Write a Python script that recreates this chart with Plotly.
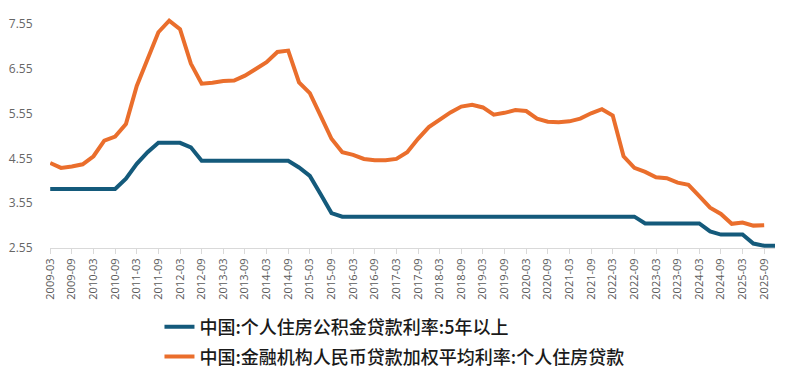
import plotly.graph_objects as go

quarters = [f"{y}-{m:02d}" for y in range(2009, 2026) for m in (3, 6, 9, 12)]

tick_labels = ["2009-03", "2009-09", "2010-03", "2010-09", "2011-03", "2011-09",
               "2012-03", "2012-09", "2013-03", "2013-09", "2014-03", "2014-09",
               "2015-03", "2015-09", "2016-03", "2016-09", "2017-03", "2017-09",
               "2018-03", "2018-09", "2019-03", "2019-09", "2020-03", "2020-09",
               "2021-03", "2021-09", "2022-03", "2022-09", "2023-03", "2023-09",
               "2024-03", "2024-09", "2025-03", "2025-09"]

y_ticks = [2.55, 3.55, 4.55, 5.55, 6.55, 7.55]

name_fund = "中国:个人住房公积金贷款利率:5年以上"
name_loan = "中国:金融机构人民币贷款加权平均利率:个人住房贷款"

fund_rate = [3.87, 3.87, 3.87, 3.87, 3.87, 3.87, 3.87,
             4.10, 4.43, 4.69,
             4.90, 4.90, 4.90,
             4.80,
             4.50, 4.50, 4.50, 4.50, 4.50, 4.50, 4.50, 4.50, 4.50,
             4.35, 4.16, 3.75, 3.33,
             3.25, 3.25, 3.25, 3.25, 3.25, 3.25, 3.25, 3.25, 3.25, 3.25,
             3.25, 3.25, 3.25, 3.25, 3.25, 3.25, 3.25, 3.25, 3.25, 3.25,
             3.25, 3.25, 3.25, 3.25, 3.25, 3.25, 3.25, 3.25,
             3.10, 3.10, 3.10, 3.10, 3.10, 3.10,
             2.92,
             2.85, 2.85, 2.85,
             2.65, 2.60, 2.60]

loan_rate = [4.45, 4.34, 4.37, 4.42, 4.60, 4.95, 5.04, 5.32, 6.17, 6.80,
             7.37, 7.63, 7.44, 6.67, 6.22, 6.24, 6.28, 6.29, 6.40, 6.55,
             6.70, 6.93, 6.96, 6.25, 6.01, 5.50, 4.99, 4.69, 4.63, 4.54,
             4.51, 4.51, 4.54, 4.69, 4.99, 5.25, 5.42, 5.58, 5.71, 5.75,
             5.69, 5.53, 5.57, 5.63, 5.61, 5.44, 5.37, 5.36, 5.38, 5.44,
             5.56, 5.65, 5.51, 4.60, 4.34, 4.25, 4.13, 4.11, 4.01, 3.96,
             3.71, 3.45, 3.31, 3.09, 3.12, 3.05, 3.06]

BLUE = "#145a7b"
ORANGE = "#ea6e2c"

fig = go.Figure()
fig.add_trace(go.Scatter(x=quarters[:len(fund_rate)], y=fund_rate, mode="lines",
                         name=name_fund, line=dict(color=BLUE, width=4),
                         legend="legend"))
fig.add_trace(go.Scatter(x=quarters[:len(loan_rate)], y=loan_rate, mode="lines",
                         name=name_loan, line=dict(color=ORANGE, width=4),
                         legend="legend2"))

legend_font = dict(family="Noto Sans CJK SC", size=18, color="#1a1a1a", weight=500)

fig.update_layout(
    width=792, height=382,
    margin=dict(l=50, r=17, t=13, b=134),
    plot_bgcolor="white", paper_bgcolor="white",
    font=dict(family="Open Sans, Liberation Sans, sans-serif", color="#595959"),
    showlegend=True,
    legend=dict(x=0.151, y=0.144, yref="container", xanchor="left", yanchor="middle",
                font=legend_font, bgcolor="rgba(0,0,0,0)"),
    legend2=dict(x=0.151, y=0.066, yref="container", xanchor="left", yanchor="middle",
                 font=legend_font, bgcolor="rgba(0,0,0,0)"),
)
fig.update_xaxes(
    type="category", categoryorder="array", categoryarray=quarters,
    range=[-0.02, 67.0], automargin=False,
    tickmode="array", tickvals=tick_labels, ticktext=tick_labels,
    tickangle=-90, tickfont=dict(size=11, color="#595959"),
    showline=True, linecolor="#d9d9d9", linewidth=1,
    ticks="outside", ticklen=5, tickcolor="#d9d9d9",
    showgrid=False, zeroline=False,
)
fig.update_yaxes(
    range=[2.55, 7.8], automargin=False,
    tickmode="array", tickvals=y_ticks, ticktext=[f"{v:.2f}" for v in y_ticks],
    tickfont=dict(size=12, color="#666666"),
    showline=False, showgrid=False, zeroline=False,
    ticks="outside", ticklen=14, tickcolor="rgba(0,0,0,0)",
)

fig.write_html("out.html", config={"displayModeBar": False},
               post_script="document.body.style.margin='0';")
